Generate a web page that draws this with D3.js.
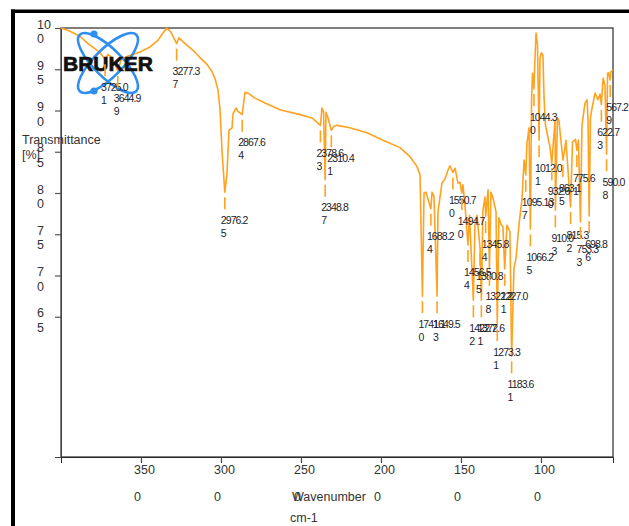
<!DOCTYPE html>
<html>
<head>
<meta charset="utf-8">
<script src="https://cdn.jsdelivr.net/npm/d3@7"></script>
<style>
  html, body { margin: 0; padding: 0; background: #fff; }
  svg { display: block; font-family: "Liberation Sans", Arial, sans-serif; }
</style>
</head>
<body>
<svg id="chart" width="629" height="526"></svg>
<script>
// IR spectrum: wavenumber (cm-1) and transmittance (%)
const wavenumbers = [
  4000, 3944, 3881, 3831, 3788, 3756, 3725.01, 3706, 3681, 3644.99, 3625, 3581, 3506, 3444, 3394,
  3363, 3338, 3313, 3277.37, 3263, 3225, 3175, 3131, 3088, 3056, 3038, 3019, 3006, 2994, 2976.25,
  2963, 2950, 2931, 2925, 2906, 2894, 2867.64, 2850, 2831, 2788, 2725, 2631, 2506, 2431, 2378.63,
  2369, 2359, 2348.87, 2344, 2331, 2310.41, 2294, 2275, 2194, 2088, 1988, 1881, 1819, 1775, 1756,
  1741.10, 1731, 1719, 1688.24, 1681, 1669, 1649.53, 1644, 1619, 1600, 1581, 1569, 1550.70, 1537,
  1519, 1506, 1494.70, 1488, 1475, 1456.54, 1447, 1422.72, 1413, 1400, 1380.85, 1372.61, 1363,
  1350, 1345.84, 1331, 1322.28, 1313, 1300, 1281, 1273.31, 1263, 1250, 1238, 1227.01, 1213, 1194,
  1183.61, 1169, 1156, 1138, 1119, 1106, 1095.137, 1088, 1075, 1066.25, 1059, 1053, 1044.30, 1038,
  1031, 1022, 1012.01, 1006, 997, 988, 981, 972, 956, 944, 932.60, 922, 912, 910.03, 897, 888,
  863.15, 853, 844, 815.32, 803, 784, 775.61, 766, 753.33, 744, 725, 712, 706, 698.86, 691, 681,
  662, 644, 631, 622.73, 612, 600, 590.08, 584, 578, 567.29, 563, 550
];
const transmittance = [
  100, 99.6, 99.0, 98.1, 97.5, 97.0, 96.2, 96.8, 96.4, 94.8, 96.1, 96.6, 97.1, 97.7, 98.5,
  99.4, 100, 99.5, 98.1, 98.8, 98.1, 97.3, 96.4, 95.6, 94.7, 93.9, 92.5, 90.1, 85.2, 80.1,
  82.2, 87.6, 87.9, 89.6, 90.3, 89.9, 89.5, 92.2, 92.1, 91.5, 90.9, 90.1, 89.5, 89.1, 88.2,
  90.3, 89.8, 81.6, 89.8, 89.1, 87.6, 88.1, 88.2, 87.9, 87.3, 86.4, 85.5, 84.4, 83.2, 82.2,
  67.5, 80.0, 80.1, 78.1, 80.1, 79.6, 67.5, 77.7, 81.2, 81.7, 82.8, 83.3, 82.5, 83.0,
  81.2, 81.3, 80.0, 81.0, 78.5, 73.7, 77.3, 67.0, 76.1, 77.3, 73.3, 67.0, 77.9,
  79.5, 77.2, 80.4, 70.8, 80.1, 79.4, 77.7, 64.1, 77.0, 76.2, 75.9, 70.8, 76.1, 75.3,
  60.2, 70.9, 72.1, 76.1, 79.2, 84.0, 82.2, 86.0, 87.9, 75.6, 91.3, 94.5, 92.6, 96.1,
  99.4, 98.0, 86.4, 96.4, 97.0, 96.7, 91.6, 88.2, 86.7, 85.6, 83.6, 86.4, 88.8, 77.9, 89.1, 88.8,
  84.0, 85.1, 86.4, 78.3, 86.2, 86.5, 85.2, 86.4, 76.5, 88.2, 90.9, 91.3, 88.8, 77.2, 89.1, 90.3,
  92.1, 91.3, 92.0, 90.7, 93.9, 93.0, 84.7, 94.5, 94.6, 93.7, 94.7, 94.9
];

// Picked peaks (labels give the wavenumber of each marked minimum)
const peakLabels = [
  "3725.01", "3644.99", "3277.37", "2976.25", "2867.64", "2378.63", "2348.87", "2310.41",
  "1741.10", "1688.24", "1649.53", "1550.70", "1494.70", "1456.54", "1422.72", "1380.85",
  "1372.61", "1345.84", "1322.28", "1273.31", "1227.01", "1183.61", "1095.137", "1066.25",
  "1044.30", "1012.01", "932.60", "910.03", "863.15", "815.32", "775.61", "753.33",
  "698.86", "622.73", "590.08", "567.29"
];

// Axis ticks
const yTicks = [65, 70, 75, 80, 85, 90, 95, 100];
const xTicks = [3500, 3000, 2500, 2000, 1500, 1000];

const svg = d3.select("#chart");
const plot = { left: 61, right: 613, top: 28, bottom: 457 };

const x = d3.scaleLinear().domain([4000, 550]).range([plot.left, plot.right]);
const y = d3.scaleLinear().domain([48, 100]).range([plot.bottom, plot.top]);

const orange = "#ffa21f";
const ink = "#1c1c2a";

// outer page frame (thick black edges)
svg.append("rect").attr("x", 11).attr("y", 9.5).attr("width", 618).attr("height", 3.5).attr("fill", "#000");
svg.append("rect").attr("x", 11).attr("y", 9.5).attr("width", 4).attr("height", 517).attr("fill", "#000");

// plot box
svg.append("rect")
  .attr("x", plot.left).attr("y", plot.top)
  .attr("width", plot.right - plot.left).attr("height", plot.bottom - plot.top)
  .attr("fill", "none").attr("stroke", "#2a2a2a").attr("stroke-width", 1.2);

// axes (ticks only; labels are split onto two lines below)
const yAxis = svg.append("g").attr("transform", `translate(${plot.left},0)`)
  .call(d3.axisLeft(y).tickValues(yTicks).tickSize(6).tickFormat(""));
yAxis.select(".domain").attr("stroke", "#444");
yAxis.selectAll(".tick line").attr("stroke", "#555").attr("stroke-width", 1.2);

const xAxis = svg.append("g").attr("transform", `translate(0,${plot.bottom})`)
  .call(d3.axisBottom(x).tickValues(xTicks).tickSize(6).tickFormat(""));
xAxis.select(".domain").attr("stroke", "#2a2a2a");
xAxis.selectAll(".tick line").attr("stroke", "#444").attr("stroke-width", 1.2);

function splitLast(s) { return [s.slice(0, -1), s.slice(-1)]; }

// y tick labels
yTicks.forEach(t => {
  const [a, b] = splitLast(String(t));
  const g = svg.append("text").attr("x", 37).attr("font-size", 12.5).attr("fill", "#333");
  g.append("tspan").attr("x", 37).attr("y", y(t) - 4 + 4.5).text(a);
  g.append("tspan").attr("x", 37).attr("y", y(t) - 4 + 4.5 + 14.5).text(b);
});

// x tick labels
xTicks.forEach(t => {
  const [a, b] = splitLast(String(t));
  const g = svg.append("text").attr("font-size", 12.5).attr("fill", "#333");
  g.append("tspan").attr("x", x(t) - 7).attr("y", plot.bottom + 17).text(a);
  g.append("tspan").attr("x", x(t) - 7).attr("y", plot.bottom + 44).text(b);
});

// axis titles
svg.append("text").attr("x", 22).attr("y", 144).attr("font-size", 12.5).attr("fill", "#333").text("Transmittance");
svg.append("text").attr("x", 22).attr("y", 159).attr("font-size", 12.5).attr("fill", "#333").text("[%]");
svg.append("text").attr("x", 292).attr("y", plot.bottom + 44).attr("font-size", 12.5).attr("fill", "#333").text("Wavenumber");
svg.append("text").attr("x", 290).attr("y", plot.bottom + 65).attr("font-size", 12.5).attr("fill", "#333").text("cm-1");

// BRUKER logo
const logo = svg.append("g");
const lc = "#2f8ff0";
[[40, 14, 45], [40, 14, -45]].forEach(([rx, ry, rot]) => {
  logo.append("ellipse").attr("cx", 108).attr("cy", 63).attr("rx", rx).attr("ry", ry)
    .attr("transform", `rotate(${rot},108,63)`)
    .attr("fill", "none").attr("stroke", lc).attr("stroke-width", 2.6);
});
logo.append("circle").attr("cx", 94).attr("cy", 34).attr("r", 3.6).attr("fill", lc);
logo.append("circle").attr("cx", 94).attr("cy", 91).attr("r", 3.6).attr("fill", lc);

// spectrum
const spectrum = wavenumbers.map((w, i) => [w, transmittance[i]]);
svg.append("path")
  .datum(spectrum)
  .attr("fill", "none").attr("stroke", orange).attr("stroke-width", 1.6)
  .attr("stroke-linejoin", "round")
  .attr("d", d3.line().x(d => x(d[0])).y(d => y(d[1])));

logo.raise();
logo.append("text").attr("x", 63).attr("y", 71).attr("font-size", 21).attr("font-weight", "bold")
  .attr("fill", "#111").attr("stroke", "#111").attr("stroke-width", 0.7).text("BRUKER");

// peak markers: short leader below each minimum, then a two-line label
const peaks = peakLabels.map(s => {
  const w = parseFloat(s);
  const i = wavenumbers.indexOf(w);
  return { s, w, t: transmittance[i] };
});
const pk = svg.append("g");
peaks.forEach(p => {
  const px = x(p.w), py = y(p.t);
  pk.append("line").attr("x1", px).attr("x2", px).attr("y1", py + 5).attr("y2", py + 17)
    .attr("stroke", orange).attr("stroke-width", 1.6);
  const [a, b] = splitLast(p.s);
  const tx = pk.append("text").attr("font-size", 10.5).attr("letter-spacing", -0.9).attr("fill", ink);
  tx.append("tspan").attr("x", px - 4).attr("y", py + 31.5).text(a);
  tx.append("tspan").attr("x", px - 4).attr("y", py + 44.5).text(b);
});
</script>
</body>
</html>
